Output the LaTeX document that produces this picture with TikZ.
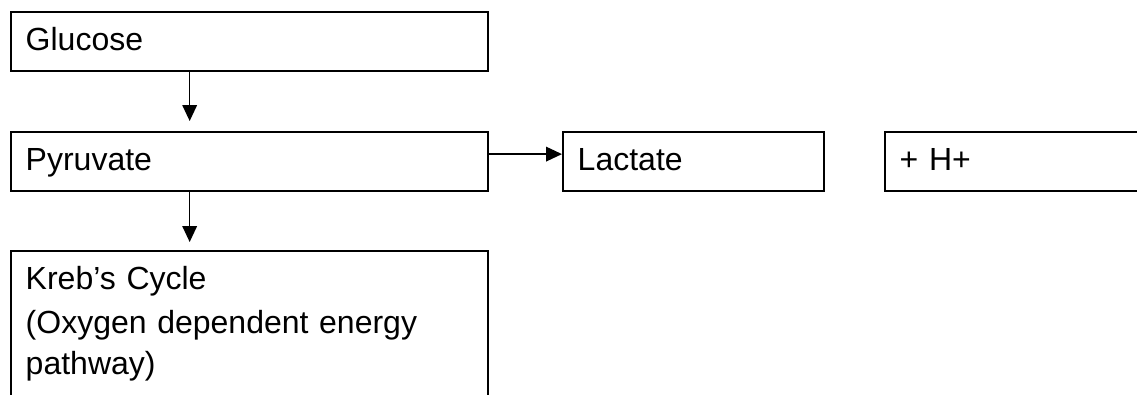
\documentclass[tikz,border=0pt]{standalone}
\usepackage{fontspec}
\setmainfont{Liberation Sans}
\usetikzlibrary{arrows.meta,calc}
\begin{document}
\begin{tikzpicture}[x=0.75pt,y=-0.75pt,
    box/.style={draw,line width=1.6pt,anchor=north west,inner xsep=11pt,inner ysep=0pt,
      text width=335.75pt,align=left,text height=28.5pt,text depth=15.75pt,
      font=\fontsize{24pt}{30.5pt}\selectfont},
    flow/.style={-{Triangle[length=12pt,width=11pt]},line width=1.1pt}]
    \path[use as bounding box,clip] (0,0) rectangle (1137,394);
    \node[box] (glucose) at (10,11) {Glucose};
    \node[box] (pyruvate) at (10,131) {Pyruvate};
    \node[box,text width=173.75pt] (lactate) at (562,131) {Lactate};
    \node[box,text width=300pt] (hplus) at (884,131) {+ H+};
    \node[box,text depth=150pt] (krebs) at (10,250) {Kreb’s Cycle\\[3pt](Oxygen dependent energy\\pathway)};
    \draw[flow] ($(glucose.south west)!.375!(glucose.south east)$) -- ($(pyruvate.north west)!.375!(pyruvate.north east)+(0,-10)$);
    \draw[flow] ($(pyruvate.south west)!.375!(pyruvate.south east)$) -- ($(krebs.north west)!.375!(krebs.north east)+(0,-8)$);
    \draw[flow] ([yshift=5.6pt]pyruvate.east) -- ([yshift=5.6pt]lactate.west);
\end{tikzpicture}
\end{document}
